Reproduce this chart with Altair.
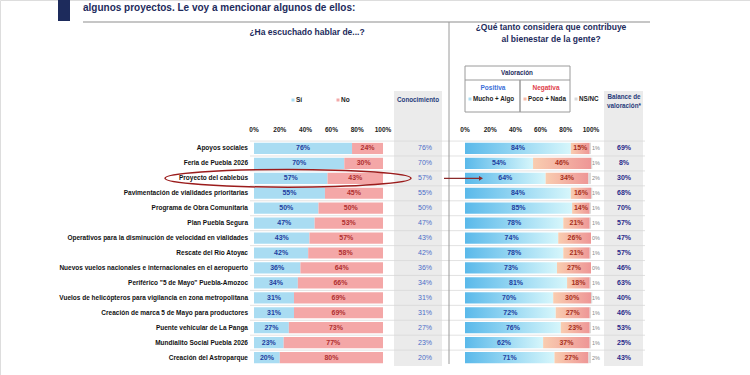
import altair as alt
import pandas as pd

# ---------------- data ----------------
items = [
    "Apoyos sociales",
    "Feria de Puebla 2026",
    "Proyecto del cablebús",
    "Pavimentación de vialidades prioritarias",
    "Programa de Obra Comunitaria",
    "Plan Puebla Segura",
    "Operativos para la disminución de velocidad en vialidades",
    "Rescate del Río Atoyac",
    "Nuevos vuelos nacionales e internacionales en el aeropuerto",
    'Periférico "5 de Mayo" Puebla-Amozoc',
    "Vuelos de helicópteros para vigilancia en zona metropolitana",
    "Creación de marca 5 de Mayo para productores",
    "Puente vehicular de La Panga",
    "Mundialito Social Puebla 2026",
    "Creación del Astroparque",
]
si = [76, 70, 57, 55, 50, 47, 43, 42, 36, 34, 31, 31, 27, 23, 20]
no = [24, 30, 43, 45, 50, 53, 57, 58, 64, 66, 69, 69, 73, 77, 80]
conocimiento = [76, 70, 57, 55, 50, 47, 43, 42, 36, 34, 31, 31, 27, 23, 20]
positiva = [84, 54, 64, 84, 85, 78, 74, 78, 73, 81, 70, 72, 76, 62, 71]
negativa = [15, 46, 34, 16, 14, 21, 26, 21, 27, 18, 30, 27, 23, 37, 27]
nsnc = [1, 1, 2, 1, 1, 1, 0, 1, 0, 1, 1, 1, 1, 1, 2]
balance = [69, 8, 30, 68, 70, 57, 47, 57, 46, 63, 40, 46, 53, 25, 43]
ticks = [0, 20, 40, 60, 80, 100]
highlight = "Proyecto del cablebús"

df = pd.DataFrame({
    "item": items, "si": si, "no": no, "con": conocimiento,
    "pos": positiva, "neg": negativa, "ns": nsnc, "bal": balance,
})
df["no_end"] = df["si"] + df["no"]
df["si_mid"] = df["si"] / 2
df["no_mid"] = df["si"] + df["no"] / 2
df["neg_end"] = df["pos"] + df["neg"]
df["ns_end"] = df["neg_end"] + df["ns"]
df["pos_mid"] = df["pos"] / 2
df["neg_mid"] = df["pos"] + df["neg"] / 2
df["si_lbl"] = df["si"].astype(str) + "%"
df["no_lbl"] = df["no"].astype(str) + "%"
df["con_lbl"] = df["con"].astype(str) + "%"
df["pos_lbl"] = df["pos"].astype(str) + "%"
df["neg_lbl"] = df["neg"].astype(str) + "%"
df["ns_lbl"] = df["ns"].astype(str) + "%"
df["bal_lbl"] = df["bal"].astype(str) + "%"
df["hundred"] = 100

tdf = pd.DataFrame({"t": ticks, "lbl": [f"{t}%" for t in ticks]})

FONT = "Liberation Sans Narrow, Liberation Sans, Arial, sans-serif"
NAVY = "#1d2b5c"

LS = alt.Scale(domain=[0, 100], range=[254, 383])
RS = alt.Scale(domain=[0, 100], range=[465, 591])
YS = alt.Scale(domain=items, range=[141, 365], paddingInner=0.25, paddingOuter=0.125)

def Y():
    return alt.Y("item:N", scale=YS, axis=None, sort=items)

base = alt.Chart(df)
layers = []

# gray columns
cols = pd.DataFrame({"x": [394, 604], "x2": [442, 643]})
layers.append(alt.Chart(cols).mark_rect(color="#ebebeb").encode(
    x=alt.X("x:Q", scale=alt.Scale(domain=[0, 750], range=[0, 750]), axis=None),
    x2="x2:Q", y=alt.value(91), y2=alt.value(366)))

# row separators
layers.append(base.mark_rule(color="#d6d6d6", strokeWidth=0.7).encode(
    y=alt.Y("item:N", scale=YS, axis=None, sort=items, bandPosition=0),
    yOffset=alt.value(-1.8), x=alt.value(250), x2=alt.value(645)))

# header decorations
layers.append(alt.Chart(df.head(1)).mark_rect(color=NAVY).encode(
    x=alt.value(58), x2=alt.value(70), y=alt.value(0), y2=alt.value(21)))
layers.append(alt.Chart(df.head(1)).mark_rule(color="#c6c6c6", strokeWidth=2).encode(
    x=alt.value(83), x2=alt.value(650), y=alt.value(22)))
layers.append(alt.Chart(df.head(1)).mark_rule(color="#9a9a9a", strokeWidth=1).encode(
    x=alt.value(449), y=alt.value(22), y2=alt.value(364)))

def txt(s, x, y, size=7.0, color=NAVY, align="center", weight="bold"):
    return alt.Chart(df.head(1)).mark_text(
        text=s, font=FONT, fontSize=size, fontWeight=weight, color=color,
        align=align, baseline="middle").encode(x=alt.value(x), y=alt.value(y))

layers.append(txt("algunos proyectos. Le voy a mencionar algunos de ellos:", 83, 8, 10, NAVY, "left"))
layers.append(txt("¿Ha escuchado hablar de...?", 307, 32, 8.5))
layers.append(txt("¿Qué tanto considera que contribuye", 551, 27, 8.5))
layers.append(txt("al bienestar de la gente?", 551, 39, 8.5))

# legend left
def sq(x, y, color):
    return alt.Chart(df.head(1)).mark_square(color=color, size=9, opacity=1).encode(
        x=alt.value(x), y=alt.value(y))

layers += [sq(293, 100, "#a9dcf2"), txt("Sí", 296, 100, 6.5, "#222", "left"),
           sq(338, 100, "#f2a9a9"), txt("No", 341, 100, 6.5, "#222", "left")]
layers.append(txt("Conocimiento", 418, 100, 6.3, "#1f3a7a"))
layers.append(txt("Balance de", 624, 97, 6.3, "#1f3a7a"))
layers.append(txt("valoración*", 624, 106, 6.3, "#1f3a7a"))

# valoración box
layers.append(alt.Chart(df.head(1)).mark_rect(fill="white", stroke="#9a9a9a", strokeWidth=1).encode(
    x=alt.value(465), x2=alt.value(570), y=alt.value(66), y2=alt.value(112)))
layers.append(alt.Chart(df.head(1)).mark_rule(color="#9a9a9a", strokeWidth=1).encode(
    x=alt.value(465), x2=alt.value(570), y=alt.value(80)))
layers.append(alt.Chart(df.head(1)).mark_rule(color="#9a9a9a", strokeWidth=1.5).encode(
    x=alt.value(520), y=alt.value(80), y2=alt.value(112)))
layers.append(txt("Valoración", 517, 73, 6.3, NAVY))
layers.append(txt("Positiva", 493, 88, 6.5, "#3a6fd8"))
layers.append(txt("Negativa", 546, 88, 6.5, "#e0404a"))
layers += [sq(470, 99, "#a9dcf2"), txt("Mucho + Algo", 473, 99, 6.3, "#222", "left"),
           sq(525, 99, "#f6b9a6"), txt("Poco + Nada", 528, 99, 6.3, "#222", "left"),
           sq(576, 99, "#d9d9d9"), txt("NS/NC", 579, 99, 6.3, "#222", "left")]

# axis tick labels
layers.append(alt.Chart(tdf).mark_text(font=FONT, fontSize=6.5, fontWeight="bold", color="#222").encode(
    x=alt.X("t:Q", scale=LS, axis=None), y=alt.value(130), text="lbl:N"))
layers.append(alt.Chart(tdf).mark_text(font=FONT, fontSize=6.5, fontWeight="bold", color="#222").encode(
    x=alt.X("t:Q", scale=RS, axis=None), y=alt.value(130), text="lbl:N"))

# category labels
layers.append(base.mark_text(font=FONT, fontSize=6.5, fontWeight="bold", color="#111", align="right").encode(
    x=alt.value(248), y=Y(), text="item:N"))

# left bars
layers.append(base.mark_bar(color="#a9dcf2").encode(
    x=alt.X("si:Q", scale=LS, axis=None), x2=alt.datum(0), y=Y()))
layers.append(base.mark_bar(color="#f4a7a7").encode(
    x=alt.X("si:Q", scale=LS, axis=None), x2="no_end:Q", y=Y()))
layers.append(base.mark_text(font=FONT, fontSize=7, fontWeight="bold", color="#1f3fa0").encode(
    x=alt.X("si_mid:Q", scale=LS, axis=None), y=Y(), text="si_lbl:N"))
layers.append(base.mark_text(font=FONT, fontSize=7, fontWeight="bold", color="#b03030").encode(
    x=alt.X("no_mid:Q", scale=LS, axis=None), y=Y(), text="no_lbl:N"))

# conocimiento & balance values
layers.append(base.mark_text(font=FONT, fontSize=7, color="#4b6cc8").encode(
    x=alt.value(425), y=Y(), text="con_lbl:N"))
layers.append(base.mark_text(font=FONT, fontSize=7, fontWeight="bold", color="#2a2a8a").encode(
    x=alt.value(624), y=Y(), text="bal_lbl:N"))

# right bars with gradients
pos_grad = alt.LinearGradient(gradient="linear", x1=0, x2=1, y1=0, y2=0, stops=[
    alt.GradientStop(color="#5ab9ea", offset=0), alt.GradientStop(color="#d6f6fb", offset=1)])
neg_grad = alt.LinearGradient(gradient="linear", x1=0, x2=1, y1=0, y2=0, stops=[
    alt.GradientStop(color="#f9cdb0", offset=0), alt.GradientStop(color="#ee9696", offset=1)])
layers.append(base.mark_bar(color=pos_grad).encode(
    x=alt.X("pos:Q", scale=RS, axis=None), x2=alt.datum(0), y=Y()))
layers.append(base.mark_bar(color=neg_grad).encode(
    x=alt.X("pos:Q", scale=RS, axis=None), x2="neg_end:Q", y=Y()))
layers.append(base.mark_bar(color="#dcdcdc").encode(
    x=alt.X("neg_end:Q", scale=RS, axis=None), x2="ns_end:Q", y=Y()))
layers.append(base.mark_text(font=FONT, fontSize=7, fontWeight="bold", color="#1f3fa0").encode(
    x=alt.X("pos_mid:Q", scale=RS, axis=None), y=Y(), text="pos_lbl:N"))
layers.append(base.mark_text(font=FONT, fontSize=7, fontWeight="bold", color="#a8301c").encode(
    x=alt.X("neg_mid:Q", scale=RS, axis=None), y=Y(), text="neg_lbl:N"))
layers.append(base.mark_text(font=FONT, fontSize=5.5, color="#888", align="left", dx=1).encode(
    x=alt.X("hundred:Q", scale=RS, axis=None), y=Y(), text="ns_lbl:N"))

# highlight ellipse and arrow
hdf = df[df["item"] == highlight]
ell = "M -1 0 A 1 0.072 0 1 0 1 0 A 1 0.072 0 1 0 -1 0"
layers.append(alt.Chart(hdf).mark_point(shape=ell, filled=False, color="#9b1c1c",
                                        strokeWidth=1.5, size=246 * 246, opacity=1).encode(
    x=alt.value(288), y=Y()))
layers.append(alt.Chart(hdf).mark_rule(color="#8b2a2a", strokeWidth=1.2).encode(
    x=alt.value(444), x2=alt.value(480), y=Y()))
layers.append(alt.Chart(hdf).mark_point(shape="triangle-right", filled=True, color="#8b2a2a",
                                        size=22, opacity=1).encode(x=alt.value(481), y=Y()))

chart = alt.layer(*layers).resolve_scale(x="independent").properties(
    width=750, height=375, autosize=alt.AutoSizeParams(type="none"), padding=0,
).configure_view(stroke=None).configure(background="white")

chart.save("out.html", embed_options={"renderer": "svg", "actions": False})
